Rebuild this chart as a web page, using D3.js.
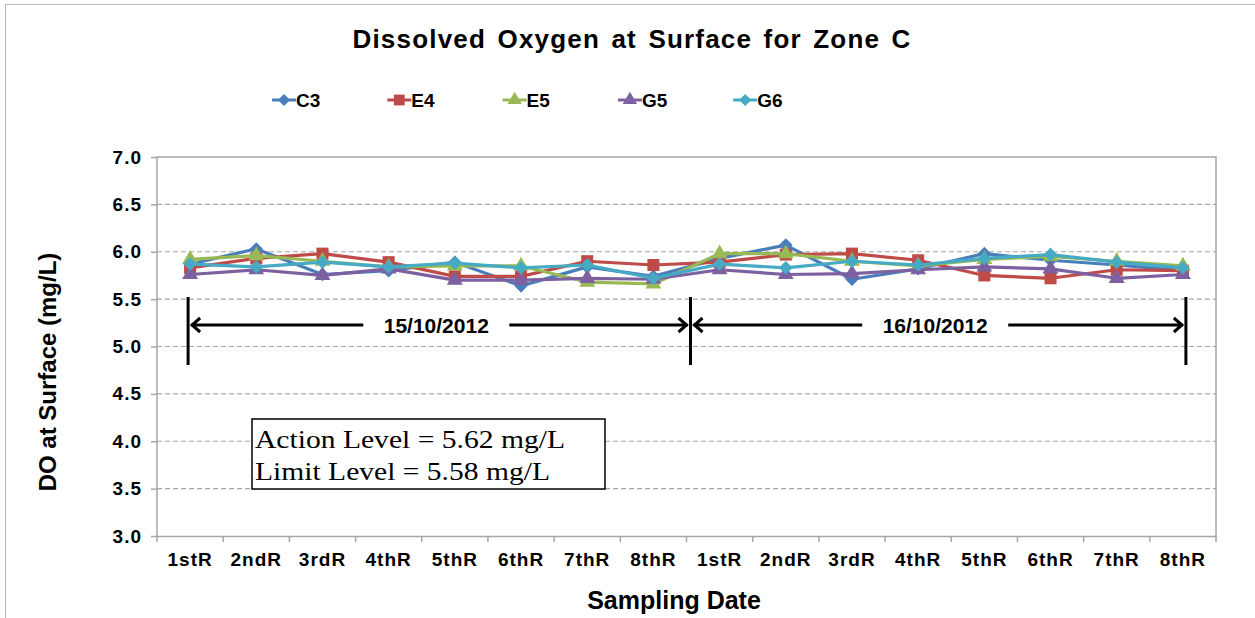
<!DOCTYPE html>
<html>
<head>
<meta charset="utf-8">
<script src="https://cdn.jsdelivr.net/npm/d3@7"></script>
<style>
  body { margin: 0; background: #fff; }
  svg { display: block; font-family: "Liberation Sans", Arial, sans-serif; }
  .tick text { font-weight: bold; font-size: 19px; letter-spacing: 1px; fill: #000; }
</style>
</head>
<body>
<svg id="chart" width="1255" height="618"></svg>
<script>
// categories and series
let categories = ["1stR","2ndR","3rdR","4thR","5thR","6thR","7thR","8thR",
                  "1stR","2ndR","3rdR","4thR","5thR","6thR","7thR","8thR"];
let yTicks = [3.0, 3.5, 4.0, 4.5, 5.0, 5.5, 6.0, 6.5, 7.0];
let seriesNames = ["C3", "E4", "E5", "G5", "G6"];
let C3 = [5.87, 6.03, 5.76, 5.80, 5.89, 5.64, 5.84, 5.74, 5.93, 6.07, 5.71, 5.82, 5.98, 5.91, 5.86, 5.80];
let E4 = [5.83, 5.93, 5.98, 5.89, 5.74, 5.74, 5.90, 5.86, 5.89, 5.97, 5.98, 5.91, 5.75, 5.72, 5.81, 5.80];
let E5 = [5.92, 5.96, 5.90, 5.84, 5.85, 5.85, 5.68, 5.66, 5.98, 5.98, 5.90, 5.85, 5.92, 5.95, 5.90, 5.85];
let G5 = [5.76, 5.81, 5.75, 5.82, 5.70, 5.70, 5.72, 5.71, 5.81, 5.76, 5.77, 5.81, 5.84, 5.82, 5.72, 5.76];
let G6 = [5.87, 5.84, 5.89, 5.84, 5.88, 5.83, 5.86, 5.72, 5.87, 5.83, 5.90, 5.86, 5.93, 5.97, 5.89, 5.83];
let dates = ["15/10/2012", "16/10/2012"];
let noteLines = ["Action Level = 5.62 mg/L", "Limit Level = 5.58 mg/L"];

// square-ish diamond like excel's marker
let diamond = {
  draw(ctx, size) {
    let r = Math.sqrt(size / 2);
    ctx.moveTo(0, -r); ctx.lineTo(r, 0); ctx.lineTo(0, r); ctx.lineTo(-r, 0); ctx.closePath();
  }
};

let series = [
  {name: "C3", values: C3, color: "#4a7ebb", shape: diamond, size: 92},
  {name: "E4", values: E4, color: "#be4b48", shape: d3.symbolSquare, size: 145},
  {name: "E5", values: E5, color: "#98b954", shape: d3.symbolTriangle, size: 110},
  {name: "G5", values: G5, color: "#7d60a0", shape: d3.symbolTriangle, size: 110},
  {name: "G6", values: G6, color: "#46aac5", shape: diamond, size: 92}
];

let svg = d3.select("#chart");
let margin = {left: 157, right: 1216, top: 157, bottom: 536};

// outer chart frame
svg.append("rect")
  .attr("x", 5.5).attr("y", 4.5)
  .attr("width", 1260).attr("height", 630)
  .attr("fill", "none").attr("stroke", "#b8b8b8").attr("stroke-width", 1);

let x = d3.scaleBand()
  .domain(d3.range(categories.length))
  .range([margin.left, margin.right]);
let y = d3.scaleLinear()
  .domain([3, 7])
  .range([margin.bottom, margin.top]);

// grid lines
svg.append("g").selectAll("line")
  .data(yTicks.filter(d => d > 3 && d < 7))
  .enter().append("line")
  .attr("x1", margin.left).attr("x2", margin.right)
  .attr("y1", d => y(d)).attr("y2", d => y(d))
  .attr("stroke", "#a6a6a6").attr("stroke-width", 1.2)
  .attr("stroke-dasharray", "5,3");

// plot frame (top + right)
svg.append("path")
  .attr("d", `M${margin.left},${margin.top}H${margin.right}V${margin.bottom}`)
  .attr("fill", "none").attr("stroke", "#a6a6a6").attr("stroke-width", 1.5);

// y axis
let yAxis = svg.append("g")
  .attr("transform", `translate(${margin.left},0)`)
  .call(d3.axisLeft(y).tickValues(yTicks).tickFormat(d3.format(".1f")).tickSize(6).tickPadding(9));
yAxis.selectAll("line, path").attr("stroke", "#a6a6a6").attr("stroke-width", 1.5);
yAxis.select(".domain").attr("d", `M0,${margin.top}V${margin.bottom}`);

// x axis
let xAxis = svg.append("g")
  .attr("transform", `translate(0,${margin.bottom})`)
  .call(d3.axisBottom(x).tickFormat(i => categories[i]).tickSize(0).tickPadding(17));
xAxis.select(".domain").attr("stroke", "#a6a6a6").attr("stroke-width", 1.5);
xAxis.append("g").selectAll("line")
  .data(d3.range(categories.length + 1))
  .enter().append("line")
  .attr("x1", i => margin.left + i * x.step()).attr("x2", i => margin.left + i * x.step())
  .attr("y1", 0).attr("y2", 6)
  .attr("stroke", "#a6a6a6").attr("stroke-width", 1.5);

// series
let line = d3.line()
  .x((d, i) => x(i) + x.bandwidth() / 2)
  .y(d => y(d));

series.forEach(s => {
  let g = svg.append("g");
  g.append("path")
    .attr("d", line(s.values))
    .attr("fill", "none").attr("stroke", s.color).attr("stroke-width", 3.2)
    .attr("stroke-linejoin", "round");
  g.selectAll("path.mk")
    .data(s.values)
    .enter().append("path")
    .attr("class", "mk")
    .attr("d", d3.symbol().type(s.shape).size(s.size))
    .attr("transform", (d, i) => `translate(${x(i) + x.bandwidth() / 2},${y(d)})`)
    .attr("fill", s.color);
});

// date range markers
let cx = i => x(i) + x.bandwidth() / 2;
let markX = [cx(0) - 2, margin.left + 8 * x.step() + 4, cx(15) + 3];
let arrowY = 325;
let ann = svg.append("g").attr("stroke", "#000");
markX.forEach(v => {
  ann.append("line")
    .attr("x1", v).attr("x2", v).attr("y1", 297).attr("y2", 365)
    .attr("stroke-width", 3);
});
let segs = [
  {a: markX[0], b: markX[1], label: dates[0]},
  {a: markX[1], b: markX[2], label: dates[1]}
];
segs.forEach(s => {
  let mid = (s.a + s.b) / 2 - 3;
  let gap = 73;
  ann.append("line").attr("x1", s.a + 3).attr("x2", mid - gap).attr("y1", arrowY).attr("y2", arrowY).attr("stroke-width", 3);
  ann.append("line").attr("x1", mid + gap).attr("x2", s.b - 3).attr("y1", arrowY).attr("y2", arrowY).attr("stroke-width", 3);
  ann.append("path").attr("d", `M${s.a + 12},${arrowY - 7}L${s.a + 4},${arrowY}L${s.a + 12},${arrowY + 7}`)
    .attr("fill", "none").attr("stroke-width", 3);
  ann.append("path").attr("d", `M${s.b - 12},${arrowY - 7}L${s.b - 4},${arrowY}L${s.b - 12},${arrowY + 7}`)
    .attr("fill", "none").attr("stroke-width", 3);
  svg.append("text")
    .attr("x", mid).attr("y", arrowY + 8)
    .attr("text-anchor", "middle")
    .attr("font-weight", "bold").attr("font-size", 21)
    .text(s.label);
});

// note box
svg.append("rect")
  .attr("x", 252).attr("y", 419).attr("width", 353).attr("height", 70)
  .attr("fill", "#fff").attr("stroke", "#000").attr("stroke-width", 1.5);
svg.append("g").selectAll("text")
  .data(noteLines)
  .enter().append("text")
  .attr("x", 255).attr("y", (d, i) => 448 + i * 32)
  .attr("font-family", "'Liberation Serif', 'DejaVu Serif', serif")
  .attr("font-size", 26)
  .attr("textLength", (d, i) => i === 0 ? 310 : 295)
  .attr("lengthAdjust", "spacingAndGlyphs")
  .text(d => d);

// title
svg.append("text")
  .attr("x", 632).attr("y", 48)
  .attr("text-anchor", "middle")
  .attr("font-weight", "bold").attr("font-size", 26)
  .attr("letter-spacing", 1.2).attr("word-spacing", 3)
  .text("Dissolved Oxygen at Surface for Zone C");

// legend
let legend = svg.append("g").selectAll("g")
  .data(series)
  .enter().append("g")
  .attr("transform", (d, i) => `translate(${272 + i * 115.3},100)`);
legend.append("line")
  .attr("x1", 0).attr("x2", 24).attr("y1", 0).attr("y2", 0)
  .attr("stroke", d => d.color).attr("stroke-width", 3);
legend.append("path")
  .attr("d", d => d3.symbol().type(d.shape).size(d.size * 0.8)())
  .attr("transform", "translate(12,0)")
  .attr("fill", d => d.color);
legend.append("text")
  .attr("x", 24).attr("y", 7)
  .attr("font-weight", "bold").attr("font-size", 19)
  .text(d => d.name);

// axis titles
svg.append("text")
  .attr("x", 674).attr("y", 609)
  .attr("text-anchor", "middle")
  .attr("font-weight", "bold").attr("font-size", 25)
  .text("Sampling Date");
svg.append("text")
  .attr("transform", "translate(56,372) rotate(-90)")
  .attr("text-anchor", "middle")
  .attr("font-weight", "bold").attr("font-size", 24)
  .text("DO at Surface (mg/L)");
</script>
</body>
</html>
